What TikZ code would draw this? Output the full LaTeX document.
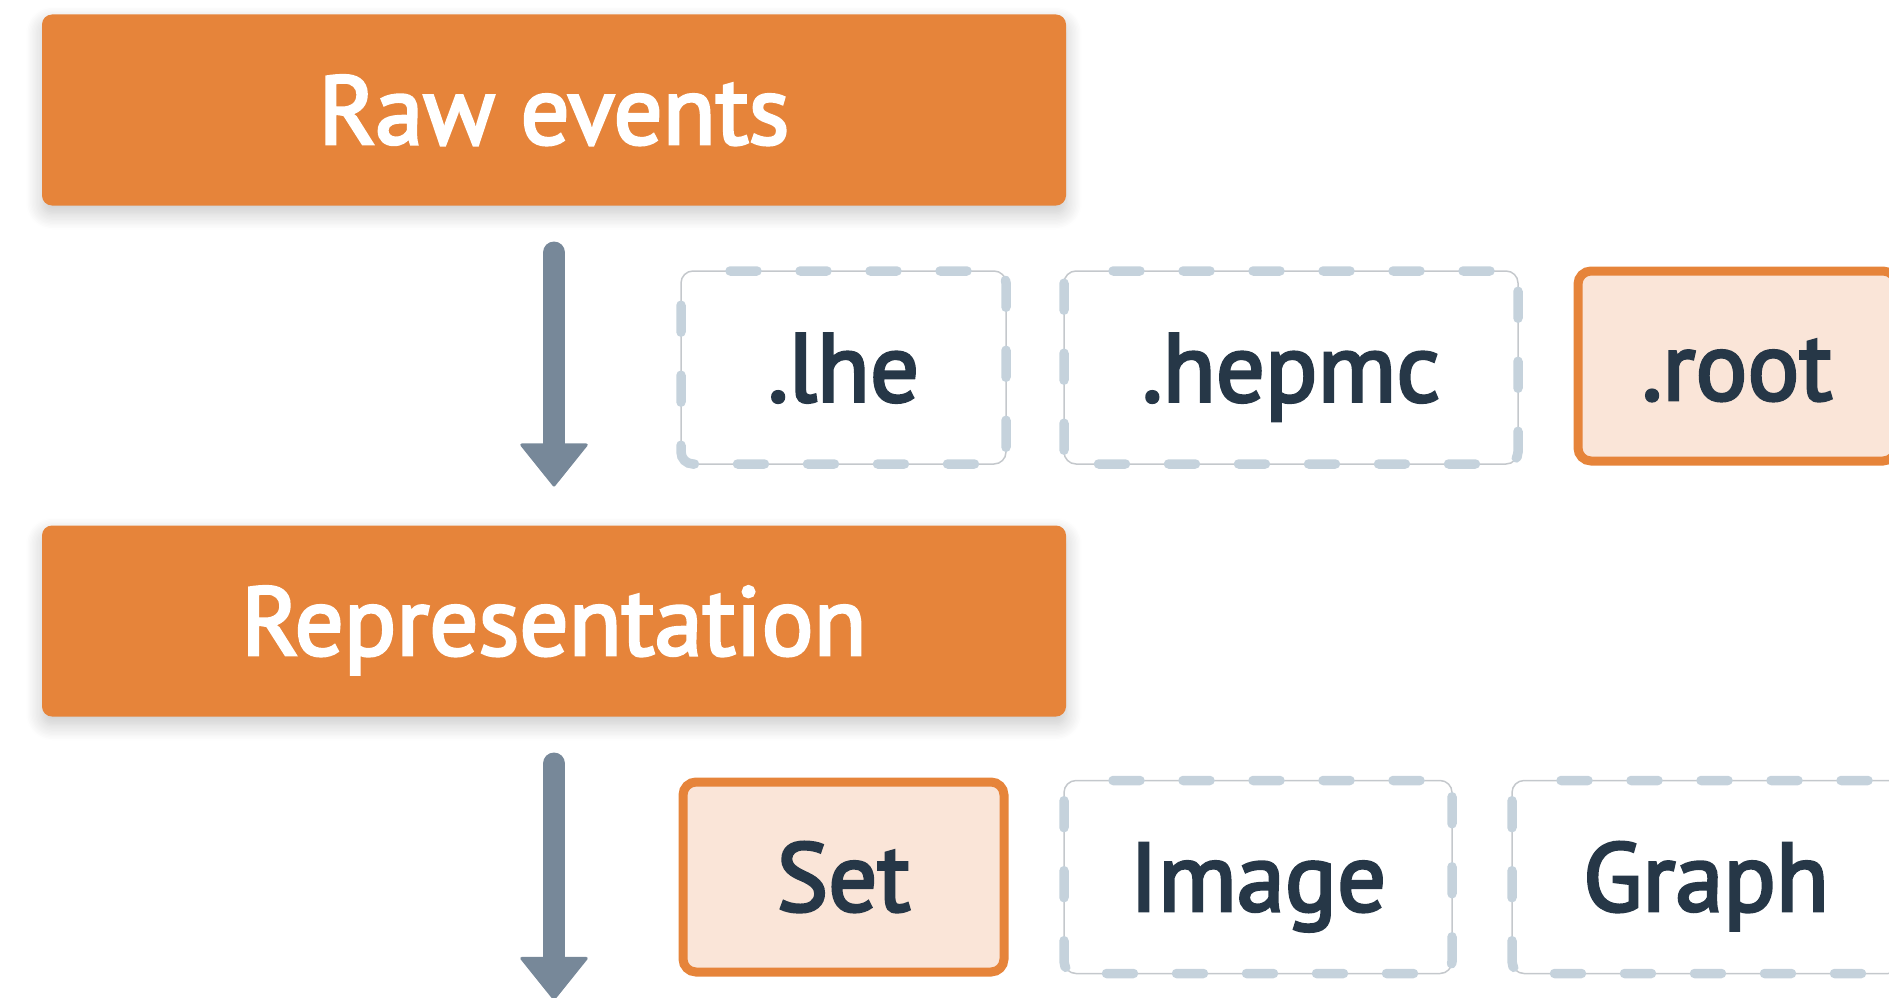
\documentclass[tikz,border=0pt]{standalone}
\usepackage{fontspec}
\setmainfont{PT Sans}[FakeBold=3]
\usetikzlibrary{shadows.blur, arrows.meta}
\definecolor{accent}{HTML}{E6843A}
\definecolor{accentlight}{HTML}{FAE5D8}
\definecolor{ink}{HTML}{263747}
\definecolor{dashgray}{HTML}{C5D2DC}
\definecolor{rimgray}{HTML}{C4C8CC}
\definecolor{arrowgray}{HTML}{778899}
\begin{document}
\begin{tikzpicture}[x=1pt, y=-1pt,
  lbl/.style={font=\fontsize{97}{110}\selectfont, text height=68pt, text depth=0pt, inner sep=0pt, outer sep=0pt},
  stage/.style={lbl, fill=accent, text=white, rounded corners=10pt,
    minimum width=1024pt, minimum height=191pt,
    blur shadow={shadow xshift=0pt, shadow yshift=-8pt, shadow blur radius=16pt, shadow blur steps=12, shadow opacity=22}},
  option/.style={lbl, text=ink, minimum height=193pt, rounded corners=12pt,
    draw=rimgray, line width=1.5pt},
  rimdash/.style={draw=dashgray, line width=9.5pt, line cap=round, rounded corners=12pt,
    dash pattern=on 27pt off 43pt, dash phase=33pt},
  chosen/.style={lbl, text=ink, fill=accentlight, draw=accent, line width=9pt,
    minimum height=190pt, rounded corners=13pt},
  flow/.style={draw=arrowgray, line width=22pt, line cap=round,
    -{Triangle[width=70pt, length=44pt, line width=3pt, round, fill=arrowgray]}}]
\useasboundingbox (0,0) rectangle (1889,998);

% pipeline stages
\node[stage] (raw) at (554,110) {Raw events};
\node[stage] (rep) at (554,621) {Representation};

% file formats
\node[option, minimum width=325pt] (lhe)   at (843.5,367.5) {.lhe};
\node[option, minimum width=454pt] (hepmc) at (1291,367.5) {.hepmc};
\node[chosen, minimum width=318pt] (root)  at (1737,366) {.root};

% data representations
\node[chosen, minimum width=321pt] (set)   at (843.5,877) {Set};
\node[option, minimum width=388pt] (image) at (1258,877) {Image};
\node[option, minimum width=388pt] (graph) at (1706,877) {Graph};

% dashed rims of the unselected options, running clockwise from the top left
\foreach \n in {lhe, hepmc, image, graph}
  \draw[rimdash] (\n.north west) -- (\n.north east) -- (\n.south east) -- (\n.south west) -- cycle;

% flow arrows
\coordinate (out) at (554,1000);
\draw[flow] ([yshift=-47pt]raw.south) -- ([yshift=39pt]rep.north);
\draw[flow] ([yshift=-47pt]rep.south) -- (out);
\end{tikzpicture}
\end{document}
